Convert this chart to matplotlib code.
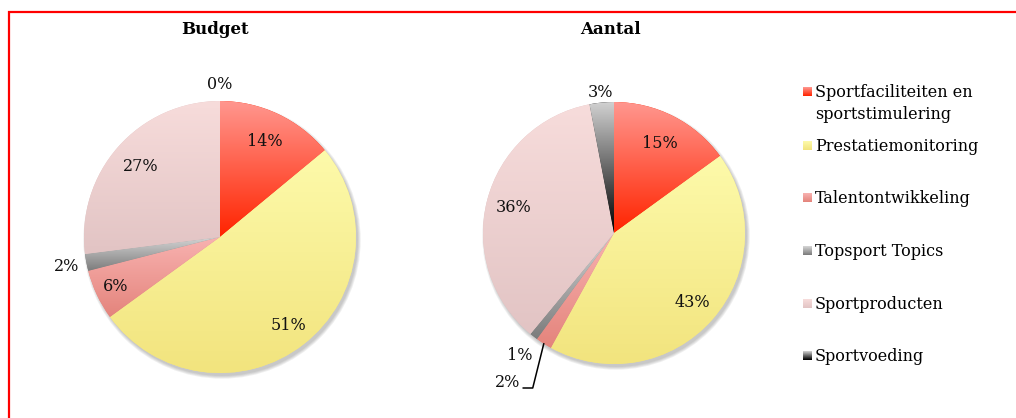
import matplotlib.pyplot as plt
import numpy as np
from matplotlib.colors import to_rgb
from matplotlib.patches import Circle, Rectangle

plt.rcParams['font.family'] = ['DejaVu Serif']

# data
categories = ['Sportfaciliteiten en\nsportstimulering', 'Prestatiemonitoring',
              'Talentontwikkeling', 'Topsport Topics', 'Sportproducten', 'Sportvoeding']
budget = [14, 51, 6, 2, 27, 0]
aantal = [15, 43, 2, 1, 36, 3]
budget_labels = ['14%', '51%', '6%', '2%', '27%', '0%']
aantal_labels = ['15%', '43%', '2%', '1%', '36%', '3%']

# gradient colours per category (top -> bottom)
grad_top = ['#ff968e', '#fdfaaa', '#f8b2b0', '#d4d4d4', '#f7dcdb', '#d0d0d0']
grad_bot = ['#ff2400', '#f2e47e', '#e4847c', '#7c7c7c', '#e2c4c4', '#000000']

# layout (pixels, image coords measured top-down)
W, H = 1016, 418
budget_center = (220, H - 237)
aantal_center = (614, H - 233)
budget_r = 136
aantal_r = 131
budget_dist = [0.78, 0.82, 0.85, 1.15, 0.78, 1.12]
aantal_dist = [0.77, 0.80, 1.40, 1.18, 0.79, 1.08]
aantal_shift = [0, 0, -3, 0, 0, 0]
legend_y = [92, 146, 198, 251, 304, 356]

fig = plt.figure(figsize=(W / 100, H / 100), dpi=100)
ax = fig.add_axes([0, 0, 1, 1])


def gradient(n=64, top='#ffffff', bot='#000000'):
    t = np.linspace(0, 1, n)[:, None]
    c = (1 - t) * np.array(to_rgb(top)) + t * np.array(to_rgb(bot))
    return c[:, None, :]


def draw_pie(values, labels, center, r, dists, shifts=None):
    cx, cy = center
    # soft drop shadow
    for k in range(4):
        ax.add_patch(Circle((cx + 2, cy - 3), r + k * 0.9, color='#555555',
                            alpha=0.09, lw=0, zorder=1))
    wedges, _ = ax.pie(values, center=center, radius=r, startangle=90,
                       counterclock=False, colors=grad_bot,
                       wedgeprops=dict(linewidth=0), normalize=True)
    for i, w in enumerate(wedges):
        w.set_zorder(2)
        if values[i] > 0:
            bb = w.get_path().get_extents()
            im = ax.imshow(gradient(top=grad_top[i], bot=grad_bot[i]),
                           extent=[bb.x0, bb.x1, bb.y0, bb.y1], origin='upper',
                           aspect='auto', zorder=3, interpolation='bilinear')
            im.set_clip_path(w)
        mid = (w.theta1 + w.theta2) / 2
        if shifts:
            mid += shifts[i]
        d = dists[i] * r
        tx = cx + d * np.cos(np.radians(mid))
        ty = cy + d * np.sin(np.radians(mid))
        ax.text(tx, ty, labels[i], ha='center', va='center', fontsize=11.5,
                color='#111111', zorder=5)
    return wedges


draw_pie(budget, budget_labels, budget_center, budget_r, budget_dist)
ws = draw_pie(aantal, aantal_labels, aantal_center, aantal_r, aantal_dist, aantal_shift)

# leader line for the small 2% slice in Aantal
w = ws[2]
mid = np.radians((w.theta1 + w.theta2) / 2)
ex = aantal_center[0] + aantal_r * np.cos(mid)
ey = aantal_center[1] + aantal_r * np.sin(mid)
ax.annotate('', xy=(ex, ey), xytext=(523, H - 388),
            arrowprops=dict(arrowstyle='-', color='black', lw=1.1,
                            connectionstyle='angle,angleA=0,angleB=76',
                            shrinkA=0, shrinkB=0), zorder=5)

# titles
ax.text(215, H - 30, 'Budget', ha='center', va='center', fontsize=12,
        fontweight='bold')
ax.text(610, H - 30, 'Aantal', ha='center', va='center', fontsize=12,
        fontweight='bold')

# legend
for i, name in enumerate(categories):
    y = H - legend_y[i]
    ax.imshow(gradient(16, grad_top[i], grad_bot[i]),
              extent=[803, 812, y - 4.5, y + 4.5], origin='upper',
              aspect='auto', zorder=4)
    ax.text(815, y + 8, name, ha='left', va='top', fontsize=11.5,
            linespacing=1.4)

# red frame
ax.add_patch(Rectangle((8.5, -20), 1200, H - 11.5 + 20, fill=False,
                       edgecolor='#ff0000', lw=1.6, zorder=6))

ax.set_xlim(0, W)
ax.set_ylim(0, H)
ax.set_aspect('auto')
ax.axis('off')

fig.savefig('out.png', dpi=100)
